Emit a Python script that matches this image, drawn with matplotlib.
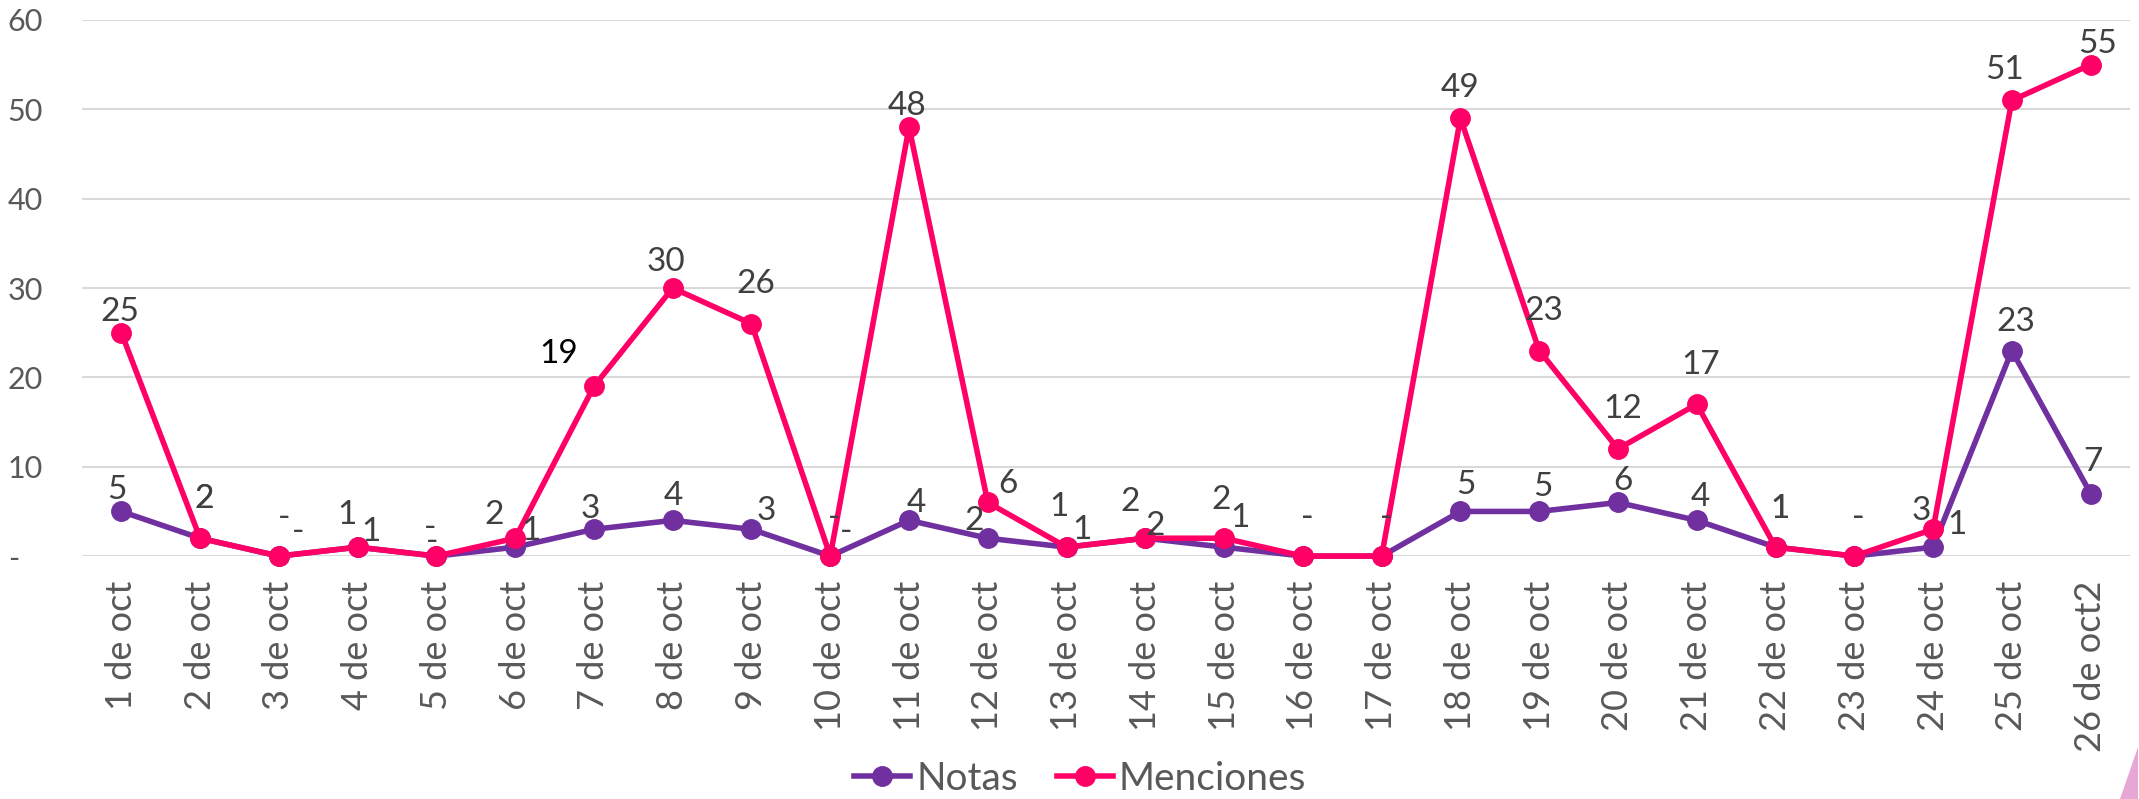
import matplotlib
matplotlib.use("Agg")
from matplotlib import pyplot as plt
from matplotlib.patches import Polygon

# chart data
dias = ["1 de oct", "2 de oct", "3 de oct", "4 de oct", "5 de oct", "6 de oct",
        "7 de oct", "8 de oct", "9 de oct", "10 de oct", "11 de oct", "12 de oct",
        "13 de oct", "14 de oct", "15 de oct", "16 de oct", "17 de oct", "18 de oct",
        "19 de oct", "20 de oct", "21 de oct", "22 de oct", "23 de oct", "24 de oct",
        "25 de oct", "26 de oct2"]
notas = [5, 2, 0, 1, 0, 1, 3, 4, 3, 0, 4, 2, 1, 2, 1, 0, 0, 5, 5, 6, 4, 1, 0, 1, 23, 7]
menciones = [25, 2, 0, 1, 0, 2, 19, 30, 26, 0, 48, 6, 1, 2, 2, 0, 0, 49, 23, 12, 17, 1, 0, 3, 51, 55]
y_ticks = [0, 10, 20, 30, 40, 50, 60]

# label offsets in pixels (dx, dy up) - placed by hand like in the original
notas_off = [(-4, 21), (4, 39), (19, 24), (13, 15), (-4, 14), (16, 16), (-4, 20), (1, 24),
             (15, 18), (16, 24), (7, 17), (-14, 17), (15, 17), (10, 12), (16, 29), (4, 38),
             (4, 38), (5, 26), (4, 24), (5, 21), (4, 23), (4, 38), (4, 38), (24, 22),
             (4, 29), (2, 32)]
menc_off = [(-1, 21), (4, 39), (5, 38), (-11, 32), (-6, 28), (-21, 23), (-35, 32), (-7, 26),
            (4, 40), (4, 38), (-2, 21), (20, 18), (-8, 40), (-15, 36), (-3, 38), (4, 38),
            (4, 38), (0, 30), (5, 40), (5, 40), (4, 39), (4, 38), (4, 38), (-12, 18),
            (-7, 30), (7, 21)]

PURPLE = "#7030A0"
PINK = "#FF0066"
plt.rcParams["font.family"] = ["Lato", "DejaVu Sans"]

fig = plt.figure(figsize=(21.39, 7.99), dpi=100)
ax = fig.add_axes([0.0383, 0.304, 0.9575, 0.671])

x = list(range(len(dias)))
ax.plot(x, notas, color=PURPLE, lw=4, marker="o", ms=14, label="Notas", clip_on=False, zorder=3)
ax.plot(x, menciones, color=PINK, lw=4, marker="o", ms=14, label="Menciones", clip_on=False, zorder=4)

def fmt(v):
    return "-" if v == 0 else str(v)

for i in x:
    ax.annotate(fmt(notas[i]), (i, notas[i]), xytext=notas_off[i], textcoords="offset pixels",
                ha="center", va="center", fontsize=24, color="#404040", zorder=5)
    col = "black" if i == 6 else "#404040"
    ax.annotate(fmt(menciones[i]), (i, menciones[i]), xytext=menc_off[i], textcoords="offset pixels",
                ha="center", va="center", fontsize=24, color=col, zorder=5)

ax.set_xlim(-0.5, len(dias) - 0.5)
ax.set_ylim(0, 60)
ax.set_yticks(y_ticks)
ax.set_yticklabels(["-   "] + [str(t) for t in y_ticks[1:]], fontsize=22, color="#595959")
ax.set_xticks(x)
ax.set_xticklabels(dias, rotation=90, fontsize=26, color="#595959")
ax.tick_params(axis="both", length=0)
ax.tick_params(axis="y", pad=28)
ax.tick_params(axis="x", pad=18)
ax.grid(axis="y", color="#D9D9D9", lw=1.5)
ax.set_axisbelow(True)
for s in ax.spines.values():
    s.set_visible(False)

fig.legend(loc="center", bbox_to_anchor=(0.505, 0.025), ncol=2, frameon=False, fontsize=28,
           handlelength=1.45, handletextpad=0.15, columnspacing=1.0, labelcolor="#595959")

# little pink corner of the slide background
fig.patches.append(Polygon([(0.9995, 0.065), (0.9995, 0.0), (0.991, 0.0)], closed=True,
                           transform=fig.transFigure, facecolor="#E6A6D6", edgecolor="none"))

fig.savefig("out.png", dpi=100)
